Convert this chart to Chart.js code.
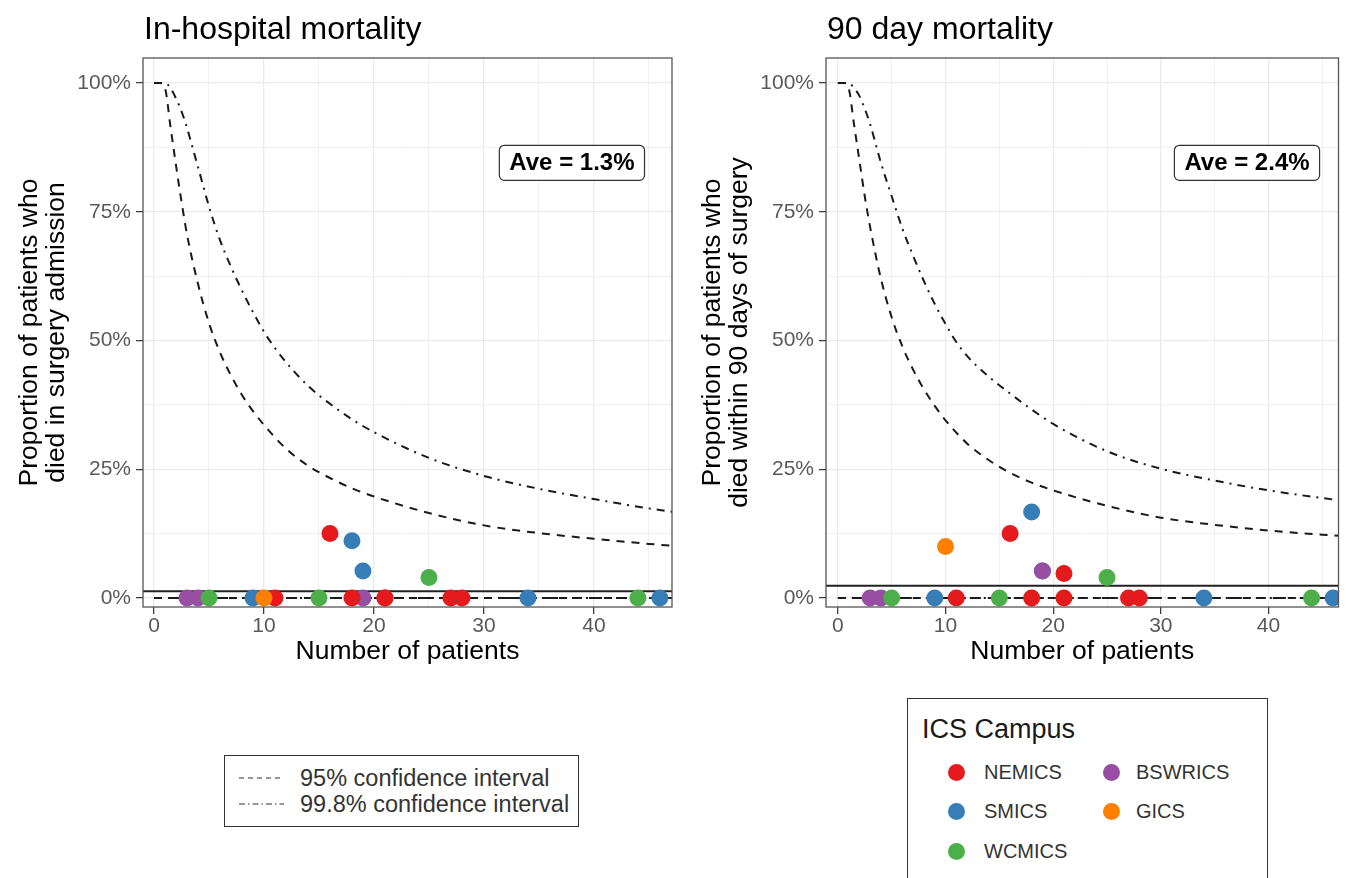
<!DOCTYPE html>
<html>
<head>
<meta charset="utf-8">
<script src="https://cdn.jsdelivr.net/npm/chart.js@4.4.1/dist/chart.umd.min.js"></script>
<style>
  body { margin: 0; background: #fff; width: 1346px; height: 878px; overflow: hidden; position: relative;
         font-family: "Liberation Sans", Arial, sans-serif; }
  canvas { position: absolute; top: 0; }
  #hospChart { left: 0; }
  #day90Chart { left: 683px; }
  .legend { position: absolute; border: 1px solid #333; background: #fff; box-sizing: border-box; }
  .row { position: absolute; display: flex; align-items: center; height: 26px; }
  .txt { color: #333; white-space: nowrap; }
  .dot { position: absolute; width: 17px; height: 17px; border-radius: 50%; }
</style>
</head>
<body>
<canvas id="hospChart" width="690" height="680"></canvas>
<canvas id="day90Chart" width="664" height="680"></canvas>

<!-- légende des intervalles -->
<div class="legend" style="left:224px; top:755px; width:355px; height:72px;">
  <svg style="position:absolute; left:13px; top:0;" width="48" height="72">
    <line x1="1" y1="22" x2="46" y2="22" stroke="#777" stroke-width="1.3" stroke-dasharray="5,4"/>
    <line x1="1" y1="48" x2="46" y2="48" stroke="#777" stroke-width="1.3" stroke-dasharray="6,3,1.5,3"/>
  </svg>
  <div class="row txt" style="left:75px; top:9px; font-size:23.5px;">95% confidence interval</div>
  <div class="row txt" style="left:75px; top:35px; font-size:23.5px;">99.8% confidence interval</div>
</div>

<!-- légende des campus -->
<div class="legend" id="campusLegend" style="left:907px; top:698px; width:361px; height:200px;">
  <div class="row" style="left:14px; top:17px; font-size:27px; color:#1a1a1a;">ICS Campus</div>
</div>

<script>
// Campus (ordre de dessin : le premier est au-dessus)
const campusNames = ['GICS', 'NEMICS', 'WCMICS', 'BSWRICS', 'SMICS'];
const campusColours = ['#FF7F00', '#E41A1C', '#4DAF4A', '#984EA3', '#377EB8'];
const legendOrder = ['NEMICS', 'SMICS', 'WCMICS', 'BSWRICS', 'GICS'];

// Hôpitaux : campus, nombre de patients, taux observés
const hospCampus = ['BSWRICS', 'BSWRICS', 'BSWRICS', 'WCMICS', 'WCMICS', 'WCMICS', 'WCMICS',
                    'SMICS', 'SMICS', 'SMICS', 'SMICS', 'SMICS', 'GICS',
                    'NEMICS', 'NEMICS', 'NEMICS', 'NEMICS', 'NEMICS', 'NEMICS', 'NEMICS'];
const hospPatients = [3, 4, 19, 5, 15, 25, 44, 9, 18, 19, 34, 46, 10, 11, 16, 18, 21, 21, 27, 28];
const inHospRate = [0, 0, 0, 0, 0, 0.04, 0, 0, 0.111, 0.0526, 0, 0, 0, 0, 0.125, 0, 0, 0, 0, 0];
const day90Rate = [0, 0, 0.0526, 0, 0, 0.04, 0, 0, 0.167, 0.0526, 0, 0, 0.10, 0, 0.125, 0, 0, 0.0476, 0, 0];

// Limites de l'entonnoir
const hospCi95N = [0, 0.5, 1, 1.5, 2, 2.5, 3, 4, 5, 6, 7, 8, 9, 10, 12, 14, 16, 18, 20, 25, 30, 35, 40, 45, 48];
const hospCi95 = [1, 1, 0.99, 0.915, 0.84, 0.77, 0.706, 0.61, 0.534, 0.477, 0.432, 0.394, 0.363, 0.336,
                  0.29, 0.257, 0.233, 0.213, 0.197, 0.165, 0.141, 0.126, 0.115, 0.105, 0.10];
const hospCi998N = [0, 1, 1.5, 2, 2.5, 3, 3.5, 4, 5, 6, 7, 8, 9, 10, 11, 12, 14, 16, 18, 20, 25, 30, 35, 40, 45, 48];
const hospCi998 = [1, 1, 0.99, 0.97, 0.945, 0.913, 0.875, 0.837, 0.76, 0.695, 0.643, 0.597, 0.555, 0.517,
                   0.485, 0.458, 0.412, 0.377, 0.347, 0.322, 0.272, 0.237, 0.212, 0.192, 0.174, 0.165];
const day90Ci95N = [0, 0.5, 1, 1.5, 2, 2.5, 3, 4, 5, 6, 7, 8, 9, 10, 12, 14, 16, 18, 20, 25, 30, 35, 40, 45, 48];
const day90Ci95 = [1, 1, 0.99, 0.92, 0.85, 0.78, 0.72, 0.62, 0.545, 0.488, 0.443, 0.405, 0.373, 0.345,
                   0.30, 0.268, 0.243, 0.224, 0.209, 0.179, 0.156, 0.142, 0.131, 0.123, 0.119];
const day90Ci998N = [0, 1, 1.5, 2, 2.5, 3, 3.6, 4, 5, 6, 7, 8, 9, 10, 11, 12, 14, 16, 18, 20, 25, 30, 35, 40, 45, 48];
const day90Ci998 = [1, 1, 0.99, 0.975, 0.95, 0.92, 0.875, 0.845, 0.78, 0.717, 0.664, 0.615, 0.571, 0.532,
                    0.497, 0.47, 0.43, 0.397, 0.366, 0.338, 0.285, 0.251, 0.228, 0.209, 0.194, 0.186];
const lowerN = [0, 48];
const lowerLimit = [0, 0];

// Moyennes
const hospAverage = 0.013;
const day90Average = 0.024;

// Graduations
const xGridTicks = [0, 5, 10, 15, 20, 25, 30, 35, 40, 45];
const xTickLabels = [0, 10, 20, 30, 40];
const yGridTicks = [0, 0.125, 0.25, 0.375, 0.5, 0.625, 0.75, 0.875, 1];
const yTickLabels = [0, 0.25, 0.5, 0.75, 1];

const FONT = '"Liberation Sans", Arial, sans-serif';

const toPoints = (xs, ys) => xs.map((v, i) => ({ x: v, y: ys[i] }));

// Cadre, titre et étiquette de moyenne
const decorPlugin = {
    id: 'decor',
    afterDatasetsDraw(chart, args, opts) {
        const { ctx, chartArea: a, scales: { x, y } } = chart;
        ctx.save();
        ctx.strokeStyle = '#555';
        ctx.lineWidth = 1.3;
        ctx.strokeRect(a.left, a.top, a.right - a.left, a.bottom - a.top);

        ctx.font = 'bold 24px ' + FONT;
        const w = ctx.measureText(opts.label).width + 20;
        const h = 35;
        const cx = x.getPixelForValue(opts.labelX);
        const cy = y.getPixelForValue(opts.labelY);
        ctx.beginPath();
        ctx.roundRect(cx - w / 2, cy - h / 2, w, h, 5);
        ctx.fillStyle = '#fff';
        ctx.fill();
        ctx.strokeStyle = '#333';
        ctx.lineWidth = 1.2;
        ctx.stroke();
        ctx.fillStyle = '#000';
        ctx.textAlign = 'center';
        ctx.textBaseline = 'middle';
        ctx.fillText(opts.label, cx, cy + 1);

        ctx.font = '32px ' + FONT;
        ctx.textAlign = 'left';
        ctx.textBaseline = 'alphabetic';
        ctx.fillStyle = '#000';
        ctx.fillText(opts.title, a.left + 1, 39);
        ctx.restore();
    }
};

function buildDatasets(rates, ci95N, ci95, ci998N, ci998, average, xMin, xMax) {
    const lineStyle = { showLine: true, pointRadius: 0, borderColor: '#1a1a1a', borderWidth: 2,
                        cubicInterpolationMode: 'monotone', order: 10 };
    const datasets = campusNames.map((name, k) => ({
        label: name,
        data: hospPatients.map((n, i) => ({ x: n, y: rates[i], c: hospCampus[i] }))
                          .filter(p => p.c === name),
        backgroundColor: campusColours[k],
        borderWidth: 0,
        pointRadius: 8.5,
        order: k
    }));
    datasets.push({ ...lineStyle, label: '95%', data: toPoints(ci95N, ci95), borderDash: [8, 7] });
    datasets.push({ ...lineStyle, label: '99.8%', data: toPoints(ci998N, ci998), borderDash: [8, 6, 2, 6] });
    datasets.push({ ...lineStyle, label: '95% lower', data: toPoints(lowerN, lowerLimit), borderDash: [8, 7] });
    datasets.push({ ...lineStyle, label: '99.8% lower', data: toPoints(lowerN, lowerLimit), borderDash: [8, 6, 2, 6] });
    datasets.push({ ...lineStyle, label: 'Ave', data: toPoints([xMin, xMax], [average, average]), borderWidth: 2, borderColor: '#222' });
    return datasets;
}

function createPanel(canvasId, cfg) {
    const ctx = document.getElementById(canvasId).getContext('2d');
    const isMajorX = v => xTickLabels.includes(v);
    const isMajorY = v => yTickLabels.includes(v);
    return new Chart(ctx, {
        type: 'scatter',
        data: { datasets: buildDatasets(cfg.rates, cfg.ci95N, cfg.ci95, cfg.ci998N, cfg.ci998, cfg.average, cfg.xMin, cfg.xMax) },
        options: {
            responsive: false,
            animation: false,
            layout: { padding: { left: 0, top: 58, right: cfg.padRight, bottom: 15 } },
            plugins: {
                legend: { display: false },
                tooltip: { enabled: false },
                decor: { title: cfg.title, label: cfg.label, labelX: 38, labelY: 0.845 }
            },
            scales: {
                x: {
                    type: 'linear',
                    min: cfg.xMin,
                    max: cfg.xMax,
                    afterBuildTicks: s => { s.ticks = xGridTicks.map(v => ({ value: v })); },
                    afterFit: s => { s.height = 58; },
                    border: { display: false },
                    grid: {
                        color: '#ebebeb',
                        lineWidth: c => isMajorX(c.tick.value) ? 1.3 : 0.7,
                        tickColor: c => isMajorX(c.tick.value) ? '#333' : 'rgba(0,0,0,0)',
                        tickLength: 7,
                        tickWidth: 1.2
                    },
                    ticks: {
                        autoSkip: false,
                        maxRotation: 0,
                        padding: 0,
                        color: '#5a5a5a',
                        font: { family: FONT, size: 21 },
                        callback: v => isMajorX(v) ? String(v) : ''
                    },
                    title: {
                        display: true,
                        text: 'Number of patients',
                        color: '#000',
                        font: { family: FONT, size: 26.5, lineHeight: '27px' },
                        padding: { top: 0, bottom: 0 }
                    }
                },
                y: {
                    type: 'linear',
                    min: -0.0175,
                    max: 1.0485,
                    afterBuildTicks: s => { s.ticks = yGridTicks.map(v => ({ value: v })); },
                    afterFit: s => { s.width = 143; },
                    border: { display: false },
                    grid: {
                        color: '#ebebeb',
                        lineWidth: c => isMajorY(c.tick.value) ? 1.3 : 0.7,
                        tickColor: c => isMajorY(c.tick.value) ? '#333' : 'rgba(0,0,0,0)',
                        tickLength: 7,
                        tickWidth: 1.2
                    },
                    ticks: {
                        autoSkip: false,
                        padding: 5,
                        color: '#5a5a5a',
                        font: { family: FONT, size: 21 },
                        callback: v => isMajorY(v) ? Math.round(v * 100) + '%' : ''
                    },
                    title: {
                        display: true,
                        text: cfg.yTitle,
                        color: '#000',
                        font: { family: FONT, size: 26.5, lineHeight: '27px' },
                        padding: { top: 16, bottom: 0 }
                    }
                }
            }
        },
        plugins: [decorPlugin]
    });
}

createPanel('hospChart', {
    title: 'In-hospital mortality',
    label: 'Ave = 1.3%',
    yTitle: ['Proportion of patients who', 'died in surgery admission'],
    rates: inHospRate,
    ci95N: hospCi95N, ci95: hospCi95, ci998N: hospCi998N, ci998: hospCi998,
    average: hospAverage,
    xMin: -1, xMax: 47.1, padRight: 18
});

createPanel('day90Chart', {
    title: '90 day mortality',
    label: 'Ave = 2.4%',
    yTitle: ['Proportion of patients who', 'died within 90 days of surgery'],
    rates: day90Rate,
    ci95N: day90Ci95N, ci95: day90Ci95, ci998N: day90Ci998N, ci998: day90Ci998,
    average: day90Average,
    xMin: -1.1, xMax: 46.5, padRight: 0
});

// Légende des campus (deux colonnes)
const legendBox = document.getElementById('campusLegend');
legendOrder.forEach((name, i) => {
    const col = i < 3 ? 0 : 1;
    const row = i < 3 ? i : i - 3;
    const centre = col === 0 ? 48 : 203;
    const top = 73 + row * 39.5;
    const dot = document.createElement('div');
    dot.className = 'dot';
    dot.style.left = (centre - 8.5) + 'px';
    dot.style.top = (top - 8.5) + 'px';
    dot.style.background = campusColours[campusNames.indexOf(name)];
    legendBox.appendChild(dot);
    const label = document.createElement('div');
    label.className = 'row txt';
    label.style.left = (centre + (col === 0 ? 28 : 25)) + 'px';
    label.style.top = (top - 13) + 'px';
    label.style.fontSize = '20px';
    label.textContent = name;
    legendBox.appendChild(label);
});
</script>
</body>
</html>
